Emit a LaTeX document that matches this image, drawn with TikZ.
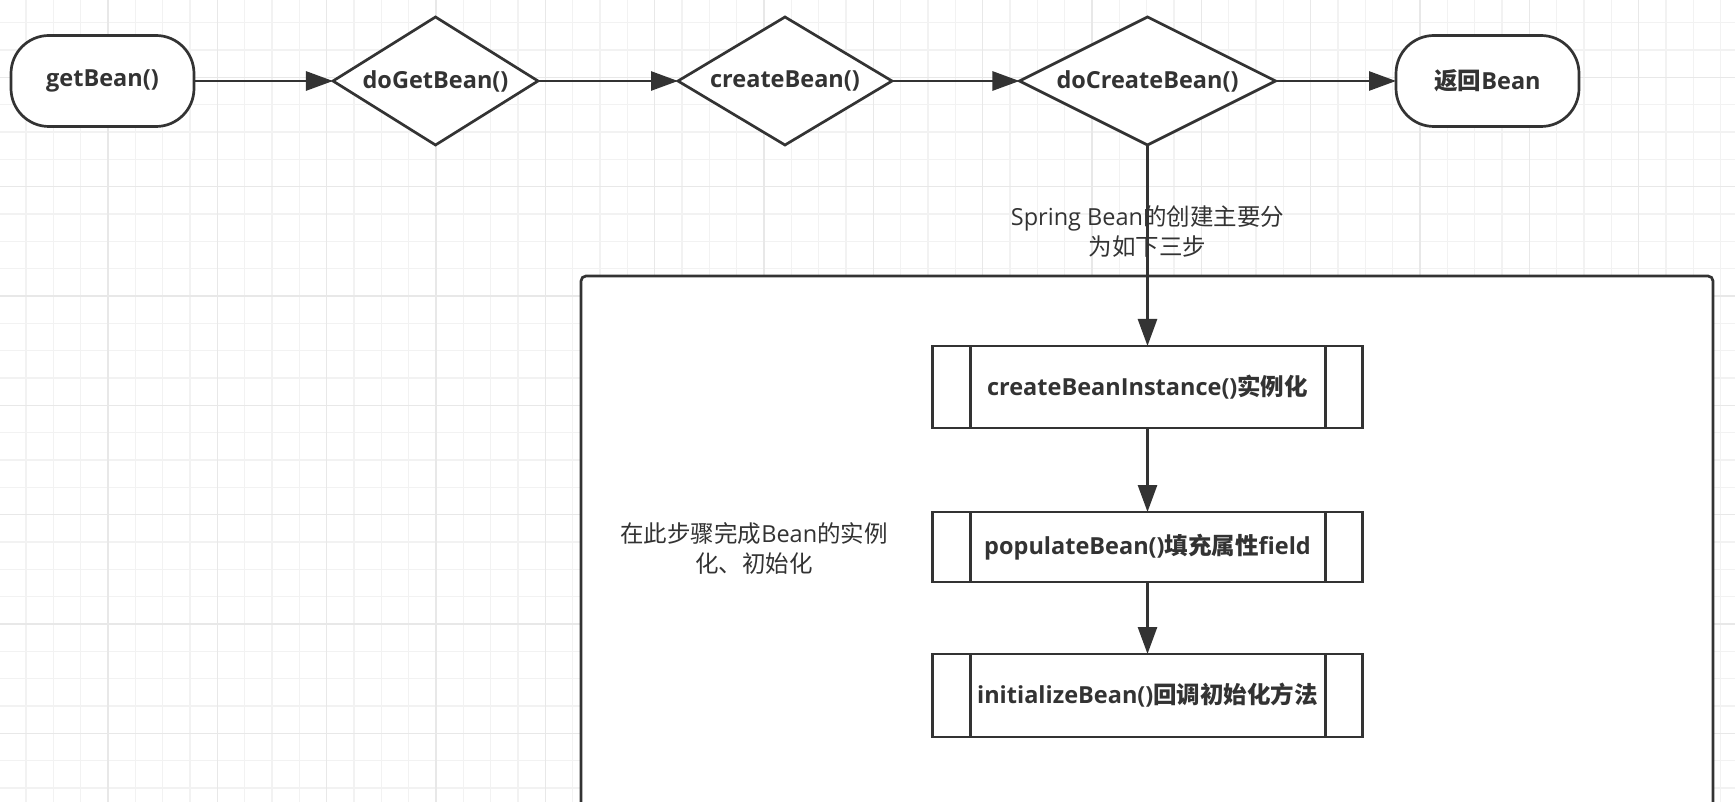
\documentclass[tikz,border=0pt]{standalone}
\usepackage{fontspec}
\setmainfont{Open Sans}
\newfontfamily\cjk{Noto Sans CJK SC}
\usetikzlibrary{shapes.geometric,arrows.meta}
\newcommand\zhs[1]{{\cjk #1}}
\definecolor{ink}{HTML}{333333}
\definecolor{gminor}{HTML}{F2F2F2}
\definecolor{gmajor}{HTML}{E8E8E8}
\begin{document}
\begin{tikzpicture}[x=1pt,y=-1pt,
  every node/.style={text=ink},
  base/.style={draw=ink, line width=2.7pt, fill=white, inner sep=0pt, outer sep=0pt,
    font=\fontsize{23.5}{30}\selectfont\bfseries},
  term/.style={base, rounded corners=38pt, minimum width=183pt, minimum height=91pt},
  dec/.style={base, diamond, minimum height=128pt},
  subp/.style={base, rectangle, minimum width=430pt},
  flow/.style={draw=ink, line width=2.7pt, -{Triangle[length=27pt,width=19pt]}},
  note/.style={font=\fontsize{23.5}{30}\selectfont, align=center, inner sep=0pt},
  gmin/.style={draw=gminor, line width=1.5pt},
  gmaj/.style={draw=gmajor, line width=1.5pt},
  edgeline/.style={draw=ink, line width=2.7pt}
]
\useasboundingbox (0,0) rectangle (1735,802);
\clip (0,0) rectangle (1735,802);
\fill[white] (0,0) rectangle (1735,802);
% grid
\foreach \i in {0,...,64} {\draw[gmin] ({-1.3+\i*27.333},0) -- ++(0,802);}
\foreach \i in {0,...,29} {\draw[gmin] (0,{22.7+\i*27.333}) -- ++(1735,0);}
\foreach \i in {0,...,16} {\draw[gmaj] ({-1.3+\i*109.333},0) -- ++(0,802);}
\foreach \i in {0,...,7} {\draw[gmaj] (0,{77.3+\i*109.333}) -- ++(1735,0);}
% container
\draw[edgeline, fill=white, rounded corners=5pt] (581,276) rectangle (1713,860);
% nodes
\node[term] (get) at (102.5,81) {getBean()};
\node[dec, aspect=1.6, minimum width=205pt] (dg) at (435.5,81) {doGetBean()};
\node[dec, aspect=1.67, minimum width=214pt] (cb) at (785,81) {createBean()};
\node[dec, aspect=2, minimum width=256pt] (dcb) at (1147.5,81) {doCreateBean()};
\node[term] (ret) at (1487.5,81) {\zhs{返回}Bean};
\node[subp, minimum height=82pt] (inst) at (1147.5,387) {createBeanInstance()\zhs{实例化}};
\node[subp, minimum height=70pt] (pop) at (1147.5,547) {populateBean()\zhs{填充属性}field};
\node[subp, minimum height=83pt] (ini) at (1147.5,695.5) {initializeBean()\zhs{回调初始化方法}};
\foreach \n in {inst,pop,ini} {
  \draw[edgeline] ([xshift=38pt]\n.north west) -- ([xshift=38pt]\n.south west);
  \draw[edgeline] ([xshift=-37pt]\n.north east) -- ([xshift=-37pt]\n.south east);
}
% connectors
\draw[flow] (get) -- (dg);
\draw[flow] (dg) -- (cb);
\draw[flow] (cb) -- (dcb);
\draw[flow] (dcb) -- (ret);
\draw[flow] (dcb) -- (inst);
\draw[flow] (inst) -- (pop);
\draw[flow] (pop) -- (ini);
% labels
\node[note] (lab) at (1147.5,232) {Spring Bean\zhs{的创建主要分}\\\zhs{为如下三步}};
\node[note] (side) at (754,548) {\zhs{在此步骤完成}Bean\zhs{的实例}\\\zhs{化、初始化}};
\end{tikzpicture}
\end{document}
